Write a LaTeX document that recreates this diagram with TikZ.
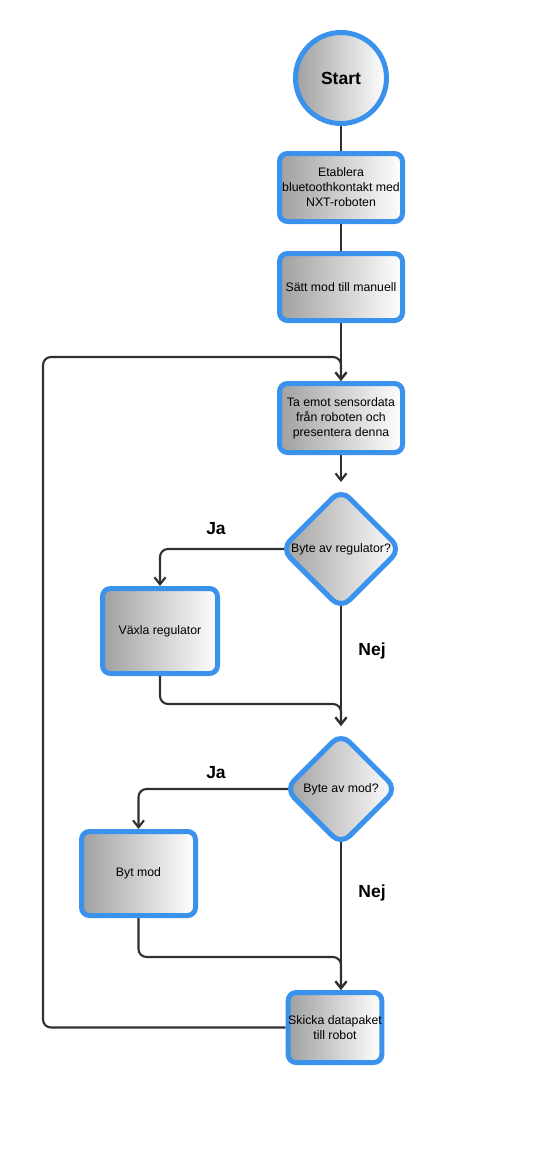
\documentclass[tikz,border=0pt]{standalone}
\usepackage{fontspec}
\setmainfont{Liberation Sans}
\usetikzlibrary{shapes.geometric,arrows.meta,backgrounds}
\definecolor{bord}{RGB}{58,146,236}
\definecolor{shadeL}{RGB}{160,160,160}
\definecolor{ln}{RGB}{48,48,48}
\tikzset{
  boxbase/.style={draw=bord, line width=5pt, left color=shadeL, right color=white, inner sep=0pt, align=center, font=\fontsize{12.3}{15}\selectfont},
  procbox/.style={boxbase, rectangle, rounded corners=8pt},
  decbox/.style={boxbase, diamond, rounded corners=12pt, aspect=1},
  conn/.style={draw=ln, line width=2.1pt, rounded corners=8pt},
  arr/.style={conn, -{Straight Barb[length=7pt,width=11pt,line width=2.1pt]}},
  lbl/.style={font=\bfseries\fontsize{17.5}{20}\selectfont, inner sep=0pt}
}
\begin{document}
\begin{tikzpicture}[x=1pt,y=-1pt]
\useasboundingbox (0,0) rectangle (548,1165);
\node[boxbase, circle, minimum size=91pt, font=\bfseries\fontsize{17.5}{20}\selectfont] (start) at (341,78) {Start};
\node[procbox, minimum width=123pt, minimum height=68pt] (b1) at (341,187.5) {Etablera\\bluetoothkontakt med\\NXT-roboten};
\node[procbox, minimum width=123pt, minimum height=67pt] (b2) at (341,287) {Sätt mod till manuell};
\node[procbox, minimum width=123pt, minimum height=69pt] (b3) at (341,418) {Ta emot sensordata\\från roboten och\\presentera denna};
\node[decbox, minimum width=121pt, minimum height=121pt] (d1) at (341,549) {Byte av regulator?};
\node[procbox, minimum width=115pt, minimum height=85pt] (vx) at (160,631) {Växla regulator};
\node[decbox, minimum width=113pt, minimum height=113pt] (d2) at (341,789) {Byte av mod?};
\node[procbox, minimum width=114pt, minimum height=84pt] (bm) at (138.5,873.5) {Byt mod};
\node[procbox, minimum width=93pt, minimum height=70pt] (sk) at (335,1027.5) {Skicka datapaket\\till robot};
\node[lbl] (ja1) at (216,529) {Ja};
\node[lbl] (nej1) at (372,651) {Nej};
\node[lbl] (ja2) at (216,773) {Ja};
\node[lbl] (nej2) at (372,893) {Nej};
\coordinate (c1) at (43,357);
\coordinate (m1) at (341,704);
\coordinate (m2) at (341,957);
\begin{scope}[on background layer]
\draw[conn] (start.center) -- (b1.center);
\draw[conn] (b1.center) -- (b2.center);
\draw[arr] (b2.center) -- (b3.north);
\draw[arr] (sk.west) -| (c1) -| (b3.north);
\draw[arr, shorten >=4pt] (b3.south) -- (d1.north);
\draw[arr] (d1.center) -| (vx.north);
\draw[arr, shorten >=4pt] (d1.center) -- (d2.north);
\draw[arr, shorten >=4pt] (vx.south) |- (m1) -- (d2.north);
\draw[arr] (d2.center) -| (bm.north);
\draw[arr] (d2.center) -- (d2.south |- sk.north);
\draw[arr] (bm.south) |- (m2) -- (d2.south |- sk.north);
\end{scope}
\end{tikzpicture}
\end{document}
